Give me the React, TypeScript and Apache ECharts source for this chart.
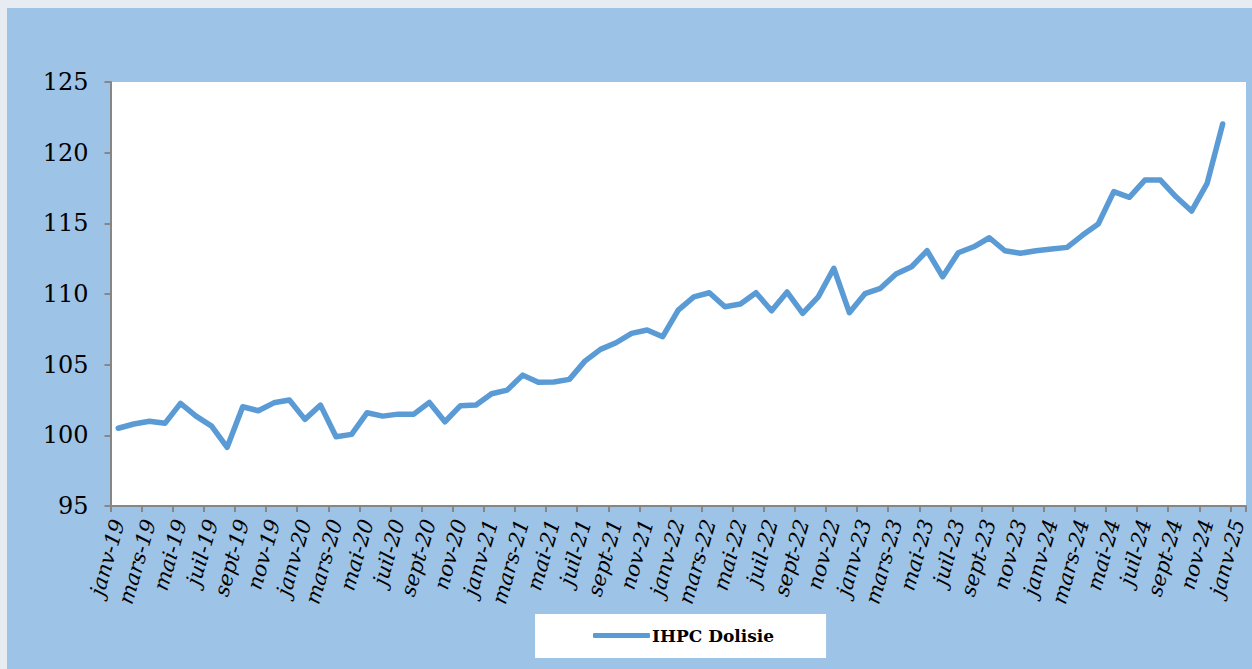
import React, { useEffect, useRef } from "react";
import * as echarts from "echarts";

const monthNames = ["janv", "févr", "mars", "avr", "mai", "juin", "juil", "août", "sept", "oct", "nov", "déc"];
const years = ["19", "20", "21", "22", "23", "24", "25"];
const categories: string[] = [];
years.forEach((y) => monthNames.forEach((m) => categories.push(`${m}-${y}`)));
categories.splice(73); // janv-19 .. janv-25

const ihpcDolisie = [
  100.5, 100.8, 101.0, 100.85, 102.26, 101.36, 100.65, 99.15, 102.02, 101.74, 102.3, 102.5,
  101.13, 102.14, 99.9, 100.07, 101.6, 101.36, 101.5, 101.5, 102.33, 100.96, 102.1, 102.14,
  102.94, 103.2, 104.26, 103.75, 103.77, 103.96, 105.25, 106.08, 106.55, 107.21, 107.45, 106.98,
  108.86, 109.8, 110.09, 109.1, 109.29, 110.09, 108.81, 110.14, 108.63, 109.8, 111.82, 108.68,
  110.02, 110.4, 111.41, 111.93, 113.06, 111.22, 112.92, 113.34, 113.98, 113.06, 112.88, 113.06,
  113.18, 113.3, 114.17, 114.95, 117.24, 116.84, 118.06, 118.06, 116.88, 115.87, 117.83, 122.03,
];

const yTicks = { min: 95, max: 125, interval: 5 };

export default function App() {
  const ref = useRef<HTMLDivElement>(null);
  useEffect(() => {
    document.body.style.background = "#E6ECF2";
    const chart = echarts.init(ref.current!, undefined, { renderer: "svg" });
    const serif = "'DejaVu Serif', serif";
    chart.setOption({
      animation: false,
      backgroundColor: "#9DC3E6",
      grid: {
        left: 103.5,
        right: 6,
        top: 74,
        bottom: 163,
        show: true,
        backgroundColor: "#ffffff",
        borderWidth: 0,
      },
      legend: {
        data: ["IHPC Dolisie"],
        left: 528,
        top: 606,
        backgroundColor: "#ffffff",
        padding: [13, 52, 14, 58],
        itemWidth: 57,
        itemHeight: 5,
        itemGap: 0,
        icon: "roundRect",
        textStyle: { fontFamily: serif, fontWeight: "bold", fontSize: 17, color: "#000", padding: [0, 0, 0, -3] },
      },
      xAxis: {
        type: "category",
        data: categories,
        boundaryGap: true,
        axisLine: { lineStyle: { color: "#868686", width: 2 } },
        axisTick: { show: true, interval: 1, length: 6, lineStyle: { color: "#868686", width: 2 } },
        axisLabel: {
          interval: 1,
          rotate: 74,
          margin: 14,
          fontFamily: serif,
          fontStyle: "italic",
          fontSize: 21,
          color: "#000",
        },
        splitLine: { show: false },
      },
      yAxis: {
        type: "value",
        min: yTicks.min,
        max: yTicks.max,
        interval: yTicks.interval,
        axisLine: { show: true, lineStyle: { color: "#868686", width: 2 } },
        axisTick: { show: true, length: 6, lineStyle: { color: "#868686", width: 2 } },
        axisLabel: { fontFamily: serif, fontSize: 24, color: "#000", margin: 22 },
        splitLine: { show: false },
      },
      series: [
        {
          name: "IHPC Dolisie",
          type: "line",
          data: ihpcDolisie,
          showSymbol: false,
          symbol: "none",
          lineStyle: { color: "#5B9BD5", width: 5.5, cap: "round", join: "round" },
          itemStyle: { color: "#5B9BD5" },
        },
      ],
    });
    return () => chart.dispose();
  }, []);
  return (
    <div
      ref={ref}
      style={{ position: "fixed", left: 7, top: 8, width: 1245, height: 661 }}
    />
  );
}
